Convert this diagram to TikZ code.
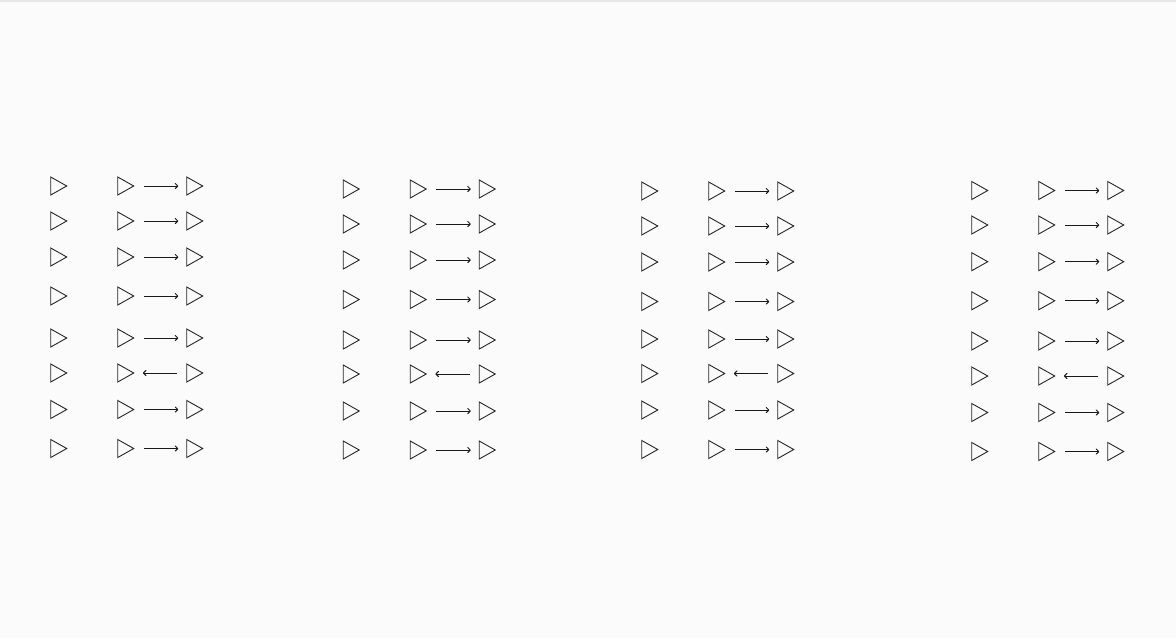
\documentclass[tikz,border=0pt]{standalone}
\usepackage{tikz}
\usetikzlibrary{shapes.geometric, arrows.meta}
\definecolor{pagebg}{RGB}{251,251,251}
\definecolor{edgegray}{RGB}{232,232,235}

\begin{document}
\begin{tikzpicture}[
  x=1pt, y=-1pt,
  tri/.style={draw=black!85, isosceles triangle, isosceles triangle stretches,
              minimum width=18pt, minimum height=16pt, inner sep=0pt,
              line width=0.9pt},
  arr/.style={-{Computer Modern Rightarrow[length=3.5pt, width=6pt]},
              line width=1pt, draw=black!90, shorten <=9pt, shorten >=8pt},
]
\fill[pagebg] (0,0) rectangle (1176,638);
\fill[edgegray] (0,0) rectangle (1176,2);
\useasboundingbox (0,0) rectangle (1176,638);

% one column per group: x of the lone triangle, then the row heights
\foreach \c/\x/\ys in {1/56/{186,221,257,296,338,373,409.5,448.5},
                       2/348.5/{189,224,260,299.5,340,374,411,450},
                       3/647/{191,226,262,301.5,339,373.5,410,449.5},
                       4/977/{190.5,225,261.7,300.8,341,376,412.5,451.5}} {
  \foreach \y [count=\r] in \ys {
    \node[tri] (a\c\r) at (\x,\y) {};
    \node[tri] (b\c\r) at (\x+67,\y) {};
    \node[tri] (c\c\r) at (\x+136,\y) {};
    \ifnum\r=6
      \draw[arr] (c\c\r) -- (b\c\r);
    \else
      \draw[arr] (b\c\r) -- (c\c\r);
    \fi
  }
}
\end{tikzpicture}
\end{document}
